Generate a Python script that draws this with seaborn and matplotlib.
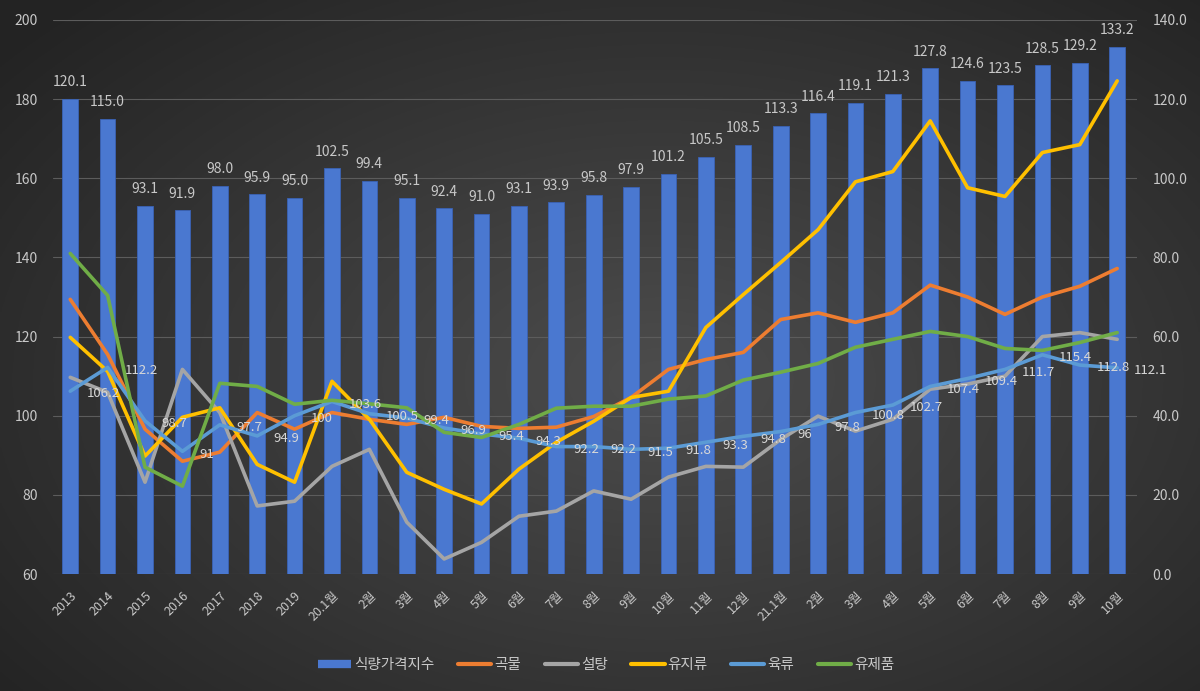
import numpy as np
import pandas as pd
import matplotlib
matplotlib.use('Agg')
import matplotlib.pyplot as plt
import seaborn as sns
from matplotlib.lines import Line2D

# 데이터
categories = ['2013', '2014', '2015', '2016', '2017', '2018', '2019',
              '20.1월', '2월', '3월', '4월', '5월', '6월', '7월', '8월', '9월',
              '10월', '11월', '12월', '21.1월', '2월', '3월', '4월', '5월',
              '6월', '7월', '8월', '9월', '10월']

food_index = [120.1, 115.0, 93.1, 91.9, 98.0, 95.9, 95.0, 102.5, 99.4, 95.1,
              92.4, 91.0, 93.1, 93.9, 95.8, 97.9, 101.2, 105.5, 108.5, 113.3,
              116.4, 119.1, 121.3, 127.8, 124.6, 123.5, 128.5, 129.2, 133.2]

grain = [129.4, 115.5, 96.6, 88.5, 90.8, 100.8, 96.6, 100.8, 99.1, 97.8,
         99.6, 97.3, 96.8, 97.1, 99.8, 104.6, 111.7, 114.2, 116.0, 124.3,
         126.0, 123.6, 126.0, 133.0, 130.0, 125.6, 130.0, 132.7, 137.2]

sugar = [109.7, 105.9, 83.2, 111.7, 100.8, 77.2, 78.4, 87.2, 91.5, 73.1,
         63.8, 68.0, 74.6, 75.9, 81.0, 78.9, 84.5, 87.2, 87.0, 94.0,
         99.9, 96.1, 99.1, 106.7, 108.0, 110.0, 120.0, 121.0, 119.3]

oils = [119.8, 111.2, 89.8, 99.6, 102.0, 87.7, 83.2, 108.7, 99.1, 85.7,
        81.4, 77.7, 86.5, 93.3, 98.6, 104.6, 106.2, 122.3, 130.6, 138.7,
        147.0, 159.1, 161.7, 174.5, 157.6, 155.4, 166.5, 168.5, 184.6]

meat = [106.2, 112.2, 98.7, 91, 97.7, 94.9, 100, 103.6, 100.5, 99.4,
        96.9, 95.4, 94.3, 92.2, 92.2, 91.5, 91.8, 93.3, 94.8, 96,
        97.8, 100.8, 102.7, 107.4, 109.4, 111.7, 115.4, 112.8, 112.1]

dairy = [141.0, 130.4, 87.0, 82.2, 108.2, 107.4, 102.9, 103.9, 103.0, 102.0,
         95.8, 94.5, 97.8, 101.9, 102.4, 102.4, 104.2, 105.0, 109.0, 111.0,
         113.2, 117.3, 119.3, 121.3, 120.0, 117.0, 116.5, 118.5, 121.0]

series_names = ['곡물', '설탕', '유지류', '육류', '유제품']
series_colors = ['#ED7D31', '#A5A5A5', '#FFC000', '#5B9BD5', '#70AD47']

n = len(categories)
pos = np.arange(n)

df_bar = pd.DataFrame({'pos': pos, 'val': food_index})
df_lines = pd.DataFrame({'pos': pos, '곡물': grain, '설탕': sugar,
                         '유지류': oils, '육류': meat, '유제품': dairy})
df_long = df_lines.melt(id_vars='pos', var_name='series', value_name='value')

sns.set_theme(style='dark')
plt.rcParams['font.family'] = ['Noto Sans CJK KR', 'DejaVu Sans']

text_col = '#c8c8c8'

fig = plt.figure(figsize=(12, 6.91), dpi=100)

# 배경 그라데이션
bg = fig.add_axes([0, 0, 1, 1], zorder=-10)
yy, xx = np.mgrid[0:1:300j, 0:1:500j]
r = np.sqrt(((xx - 0.55) / 0.7) ** 2 + ((yy - 0.55) / 0.75) ** 2)
shade = 0.30 - 0.16 * np.clip(r, 0, 1)
bg.imshow(np.dstack([shade, shade, shade]), aspect='auto', extent=[0, 1, 0, 1])
bg.axis('off')

ax = fig.add_axes([0.0442, 0.1693, 0.9033, 0.8018])
ax2 = ax.twinx()
ax.set_zorder(ax2.get_zorder() + 1)
ax.patch.set_visible(False)
ax2.patch.set_visible(False)

# 막대: 식량가격지수 (오른쪽 축)
sns.barplot(data=df_bar, x='pos', y='val', ax=ax2, color='#4A78D0',
            saturation=1, width=0.42, edgecolor='#3A62B5', linewidth=0.6)
ax2.bar_label(ax2.containers[0], fmt='%.1f', padding=7, color=text_col, fontsize=10)

# 선: 품목별 지수 (왼쪽 축)
sns.lineplot(data=df_long, x='pos', y='value', hue='series',
             hue_order=series_names, palette=series_colors,
             linewidth=2.6, ax=ax, legend=False)

for i, v in enumerate(meat):
    ax.annotate(f'{v:g}', (i, v), xytext=(12, -2), textcoords='offset points',
                ha='left', va='center', color='#d8d8d8', fontsize=9.5)

ax.set_xlim(-0.46, n - 0.47)
ax.set_ylim(60, 200)
ax.set_yticks(np.arange(60, 201, 20))
ax2.set_ylim(0, 140)
ax2.set_yticks(np.arange(0, 141, 20))
ax2.set_yticklabels([f'{t:.1f}' for t in np.arange(0, 141, 20)])

ax.set_xticks(pos)
ax.set_xticklabels(categories, rotation=45, ha='right', rotation_mode='anchor')

ax.tick_params(axis='x', colors=text_col, labelsize=9, length=0, pad=11)
ax.tick_params(axis='y', colors=text_col, labelsize=10, length=0, pad=11)
ax2.tick_params(axis='y', colors=text_col, labelsize=10, length=0, pad=11)

ax2.yaxis.grid(True, color='#5c5c5c', linewidth=0.8)
ax2.xaxis.grid(False)
ax.grid(False)
ax2.set_axisbelow(True)

for a in (ax, ax2):
    a.set_xlabel('')
    a.set_ylabel('')
    for s in a.spines.values():
        s.set_visible(False)

# 범례
handles = [Line2D([0], [0], color='#4A78D0', linewidth=6, solid_capstyle='butt')]
handles += [Line2D([0], [0], color=c, linewidth=3) for c in series_colors]
labels = ['식량가격지수'] + series_names
fig.legend(handles, labels, loc='center', bbox_to_anchor=(0.505, 1 - 665 / 691),
           ncol=6, frameon=False, handlelength=2.3, handletextpad=0.2,
           columnspacing=1.6, fontsize=10.5, labelcolor=text_col)

plt.savefig('out.png', dpi=100, facecolor='#2a2a2a')
plt.close()
